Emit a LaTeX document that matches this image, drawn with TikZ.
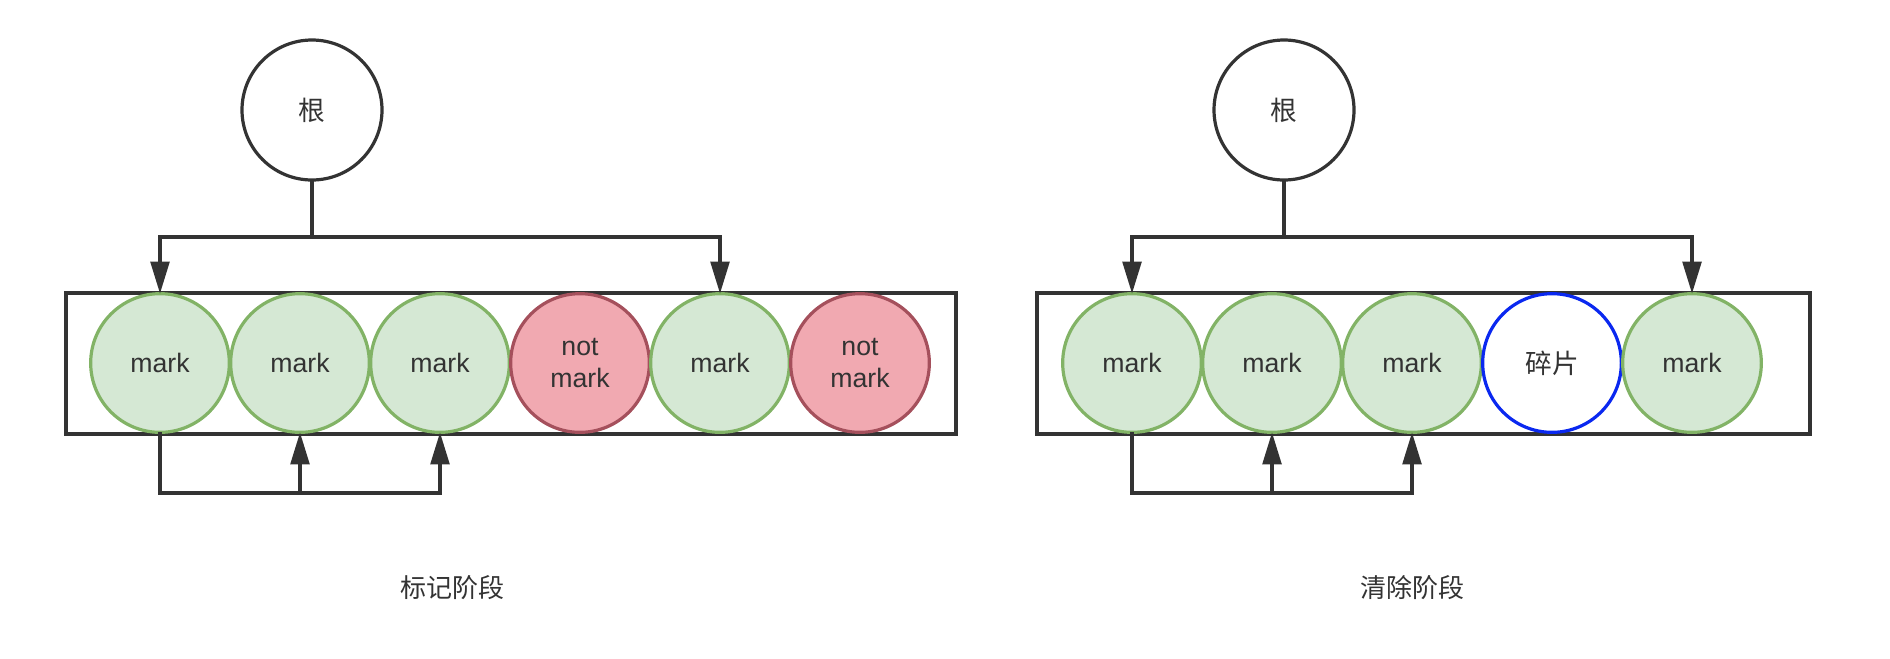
\documentclass[tikz,border=0pt]{standalone}
\usepackage{fontspec}
\setmainfont{Liberation Sans}
\newfontfamily\cjk{Noto Sans CJK SC}
\usetikzlibrary{arrows.meta,positioning}
\definecolor{linec}{HTML}{333333}
\definecolor{markfill}{HTML}{D5E8D4}
\definecolor{markline}{HTML}{82B366}
\definecolor{freefill}{HTML}{F1A9B1}
\definecolor{freeline}{HTML}{A5505C}
\definecolor{fragline}{HTML}{0A28F0}

\begin{document}
\begin{tikzpicture}[x=0.75pt,y=-0.75pt,>={Triangle[length=24pt,width=14pt]},
  node distance=1pt,font=\fontsize{20}{24}\selectfont,
  obj/.style={circle,outer sep=0pt,inner sep=0pt,minimum size=104pt,line width=2.4pt,text=linec,align=center},
  root/.style={obj,minimum size=105pt,draw=linec,fill=white},
  marked/.style={obj,draw=markline,fill=markfill},
  unmarked/.style={obj,draw=freeline,fill=freefill},
  frag/.style={obj,draw=fragline,fill=white},
  heap/.style={draw=linec,line width=3pt},
  ref/.style={draw=linec,line width=2.6pt},
  stage/.style={text=linec,font=\fontsize{19.5}{24}\selectfont\cjk}]
\useasboundingbox (0,0) rectangle (1890,658);

% mark phase
\draw[heap] (66,293) rectangle (956,434);
\node[root] (lroot) at (312,110) {\cjk 根};
\node[marked] (l1) at (160,363) {mark};
\node[marked, right=of l1] (l2) {mark};
\node[marked, right=of l2] (l3) {mark};
\node[unmarked, right=of l3] (l4) {not\\mark};
\node[marked, right=of l4] (l5) {mark};
\node[unmarked, right=of l5] (l6) {not\\mark};
\coordinate (lsplit) at (312,237);
\coordinate (lloop) at (160,493);
\draw[ref,->] (lroot.south) -- (lsplit) -| (l1.north);
\draw[ref,->] (lsplit) -| (l5.north);
\draw[ref,->] (l1.south) -- (lloop) -| (l2.south);
\draw[ref,->] (lloop) -| (l3.south);
\node[stage] (lstage) at (452,588) {标记阶段};

% sweep phase
\draw[heap] (1037,293) rectangle (1810,434);
\node[root] (rroot) at (1284,110) {\cjk 根};
\node[marked] (r1) at (1132,363) {mark};
\node[marked, right=of r1] (r2) {mark};
\node[marked, right=of r2] (r3) {mark};
\node[frag, right=of r3] (r4) {\cjk 碎片};
\node[marked, right=of r4] (r5) {mark};
\coordinate (rsplit) at (1284,237);
\coordinate (rloop) at (1132,493);
\draw[ref,->] (rroot.south) -- (rsplit) -| (r1.north);
\draw[ref,->] (rsplit) -| (r5.north);
\draw[ref,->] (r1.south) -- (rloop) -| (r2.south);
\draw[ref,->] (rloop) -| (r3.south);
\node[stage] (rstage) at (1412,588) {清除阶段};
\end{tikzpicture}
\end{document}
